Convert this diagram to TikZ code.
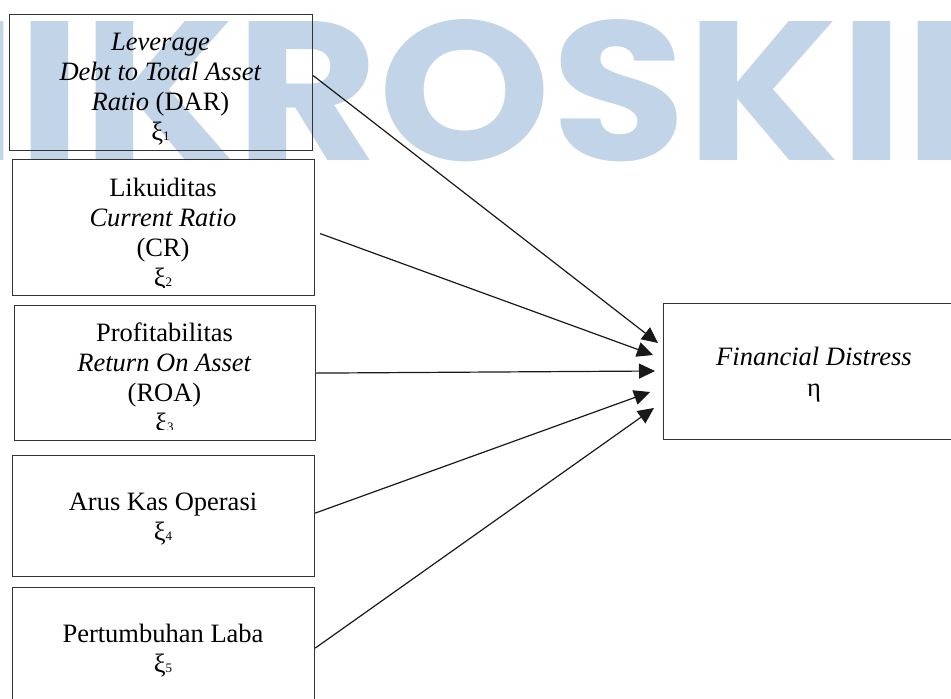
\documentclass[tikz,border=0pt]{standalone}
\usepackage{fontspec}
\setmainfont{Liberation Serif}
\newfontfamily\wmfont{Poppins}[FakeStretch=1.11]
\usetikzlibrary{arrows.meta}
\definecolor{wmblue}{RGB}{194,212,231}
\newcommand\xis[1]{ξ{\fontsize{13}{13}\selectfont #1}}
\begin{document}
\begin{tikzpicture}[x=1pt,y=-1pt,
  box/.style={draw=black!80, line width=1.2pt, minimum height=136pt, inner sep=0pt, anchor=north west},
  lbl/.style={align=center, inner sep=0pt, font=\fontsize{26.5}{30}\selectfont},
  link/.style={draw=black!90, line width=1.2pt, -{Triangle[length=16pt,width=15pt]}}]
\useasboundingbox (0,0) rectangle (951,699);
\clip (0,0) rectangle (951,699);
% watermark
\node[anchor=base west, inner sep=0pt, text=wmblue, font=\wmfont\bfseries\fontsize{198}{198}\selectfont] (wm) at (17,160) {\llap{M}IKROSKIL};
% boxes
\node[box, minimum width=303pt] (b1) at (9,14) {};
\node[box, minimum width=302pt] (b2) at (12,159) {};
\node[box, minimum width=301pt, minimum height=135pt] (b3) at (14,305) {};
\node[box, minimum width=302pt, minimum height=121pt] (b4) at (12,455) {};
\node[box, minimum width=302pt, minimum height=121pt] (b5) at (12,587) {};
\node[box, minimum width=310pt] (tg) at (663,303) {};
% texts
\node[lbl] (t1) at (160.5,89) {\textit{Leverage}\\\textit{Debt to Total Asset}\\\textit{Ratio} (DAR)\\\xis{1}};
\begin{scope}
\clip (12,159) rectangle (314,287);
\node[lbl] (t2) at (163,234.5) {Likuiditas\\\textit{Current Ratio}\\(CR)\\\xis{2}};
\end{scope}
\begin{scope}
\clip (14,305) rectangle (315,429);
\node[lbl] (t3) at (164.5,379.5) {Profitabilitas\\\textit{Return On Asset}\\(ROA)\\\xis{3}};
\end{scope}
\node[lbl] (t4) at (163,519) {Arus Kas Operasi\\\xis{4}};
\node[lbl] (t5) at (163,651) {Pertumbuhan Laba\\\xis{5}};
\node[lbl, font=\fontsize{26.5}{31}\selectfont] (t6) at (814,374.5) {\textit{Financial Distress}\\η};
% arrow ends
\coordinate (e1) at (658,343);
\coordinate (e2) at (653,355);
\coordinate (e3) at (655,371);
\coordinate (e4) at (650,392);
\coordinate (e5) at (654,408);
\draw[link] ([yshift=7pt]b1.east) -- (e1);
\draw[link] ([xshift=5pt,yshift=-6pt]b2.east) -- (e2);
\draw[link] (b3.east) -- (e3);
\draw[link] ([yshift=3pt]b4.east) -- (e4);
\draw[link] (b5.east) -- (e5);
\end{tikzpicture}
\end{document}
